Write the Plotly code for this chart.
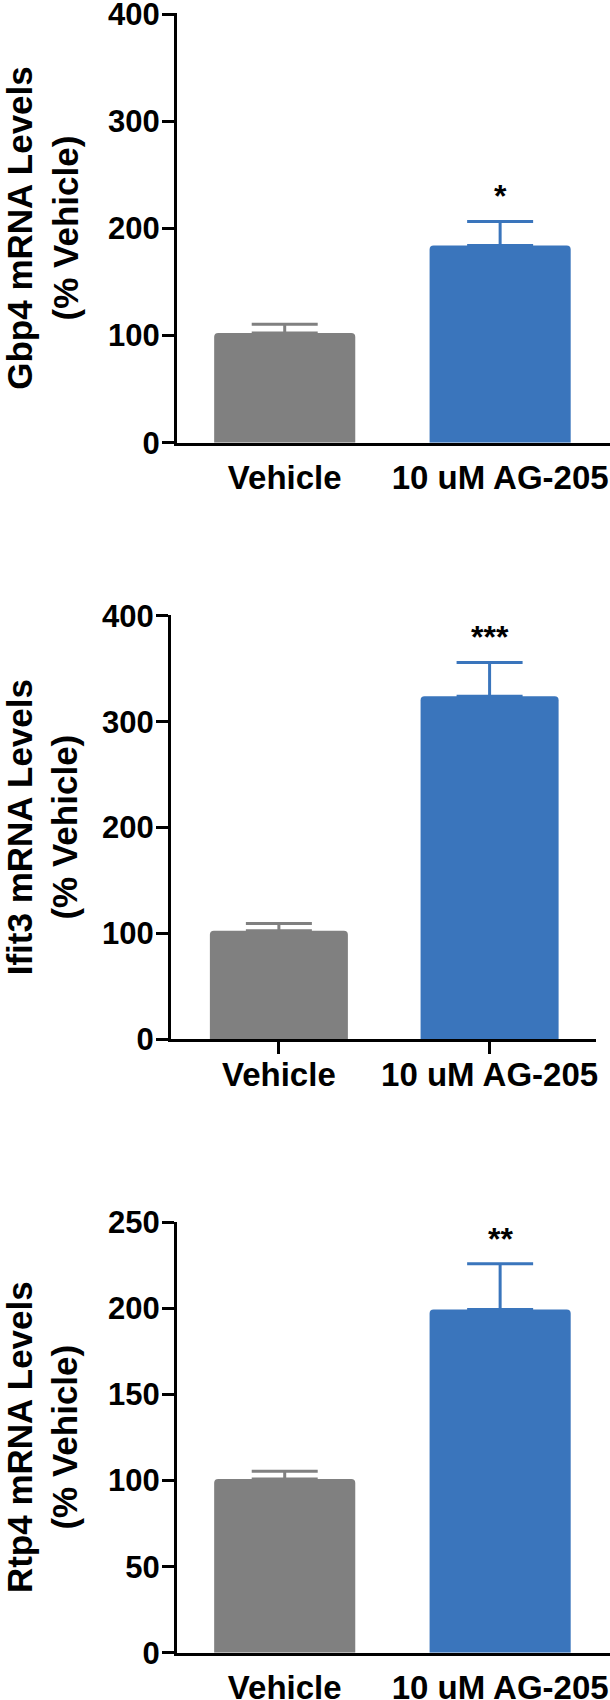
import plotly.graph_objects as go

groups = ["Vehicle", "10 uM AG-205"]
bar_colors = ["#808080", "#3a75bc"]

gbp4_mean = [102.5, 184]
gbp4_sem = [8, 22.5]
ifit3_mean = [102.5, 324]
ifit3_sem = [7, 32]
rtp4_mean = [101, 199.5]
rtp4_sem = [4.5, 26.5]

y_titles = ["Gbp4 mRNA Levels<br>(% Vehicle)",
            "Ifit3 mRNA Levels<br>(% Vehicle)",
            "Rtp4 mRNA Levels<br>(% Vehicle)"]
stars = ["*", "***", "**"]
y_max = [400, 400, 250]
y_step = [100, 100, 50]

W, H = 610, 1700
FONT = "Liberation Sans, Arial, sans-serif"

# panel geometry in pixels: (axis x, right end, y of top tick, y of zero)
geom = [
    (177, 610, 13.3, 442.7),
    (171, 596, 615.0, 1039.3),
    (177, 610, 1221.7, 1652.7),
]
x_ranges = [[-0.5, 1.51], [-0.512, 1.505], [-0.5, 1.51]]
show_xticks = [False, True, False]

means = [gbp4_mean, ifit3_mean, rtp4_mean]
sems = [gbp4_sem, ifit3_sem, rtp4_sem]

fig = go.Figure()
layout = {}
annotations = []

for p in range(3):
    sfx = "" if p == 0 else str(p + 1)
    xa, ya = "x" + sfx, "y" + sfx
    for i, g in enumerate(groups):
        fig.add_trace(go.Bar(
            x=[g], y=[means[p][i]], width=0.655,
            marker=dict(color=bar_colors[i], line=dict(width=0)),
            error_y=dict(type="data", symmetric=False,
                         array=[sems[p][i]], arrayminus=[0],
                         color=bar_colors[i], thickness=3, width=33),
            xaxis=xa, yaxis=ya, showlegend=False,
        ))
    x0, x1, ytop, yzero = geom[p]
    layout["xaxis" + sfx] = dict(
        domain=[x0 / W, x1 / W], range=x_ranges[p], anchor=ya,
        type="category", showline=True, linecolor="black", linewidth=3,
        ticks="outside", ticklen=12, tickwidth=3,
        tickcolor="black" if show_xticks[p] else "rgba(0,0,0,0)",
        ticklabelstandoff=-8,
        tickfont=dict(family=FONT, size=33, color="black", weight="bold"),
        showgrid=False, zeroline=False, automargin=False,
    )
    layout["yaxis" + sfx] = dict(
        domain=[1 - yzero / H, 1 - ytop / H], range=[0, y_max[p] * 1.002],
        anchor=xa, tickvals=list(range(0, y_max[p] + 1, y_step[p])),
        showline=True, linecolor="black", linewidth=3,
        ticks="outside", ticklen=12, tickwidth=3, tickcolor="black",
        ticklabelstandoff=-4, ticklabeloverflow="allow",
        tickfont=dict(family=FONT, size=31, color="black", weight="bold"),
        title=dict(text=y_titles[p], standoff=24,
                   font=dict(family=FONT, size=35, color="black", weight="bold")),
        showgrid=False, zeroline=False, automargin=False,
    )
    annotations.append(dict(
        x=groups[1], y=means[p][1] + sems[p][1], xref=xa, yref=ya,
        text=stars[p], showarrow=False, yanchor="bottom", yshift=5,
        font=dict(family=FONT, size=32, color="black", weight="bold"),
    ))

fig.update_layout(
    width=W, height=H,
    margin=dict(l=0, r=0, t=0, b=0),
    paper_bgcolor="white", plot_bgcolor="white",
    barmode="overlay", barcornerradius=4,
    annotations=annotations,
    **layout,
)

fig.write_html("out.html", config={"displayModeBar": False},
               post_script="document.body.style.margin='0px';")
